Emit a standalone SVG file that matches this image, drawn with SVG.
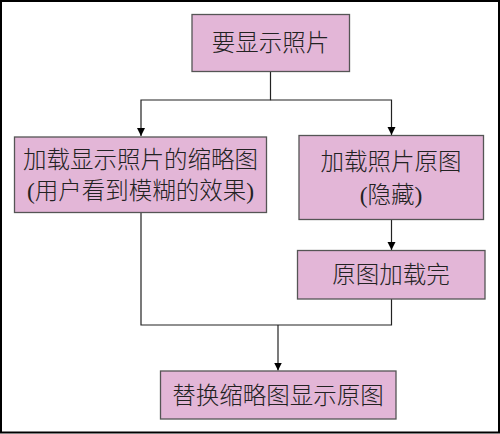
<svg xmlns="http://www.w3.org/2000/svg" width="500" height="434" viewBox="0 0 500 434">
<style>
.box{fill:#E3B6D7;stroke:#555;stroke-width:1.3}
.t{font-family:"Liberation Serif","Noto Sans CJK SC",serif;font-size:23.5px;font-weight:300;fill:#222;text-anchor:middle;dominant-baseline:central}
.c{fill:none;stroke:#222;stroke-width:1.2}
</style>
<defs>
<marker id="ah" viewBox="0 0 10 10" refX="10" refY="5" markerWidth="8" markerHeight="10" markerUnits="userSpaceOnUse" orient="auto">
<path d="M0,0 L10,5 L0,10 Z" fill="#000"/>
</marker>
</defs>
<rect x="1" y="1" width="498" height="431.5" fill="#fff" stroke="#000" stroke-width="2"/>
<g id="connectors">
<path class="c" d="M270.5,71.5 V100 H141 V136" marker-end="url(#ah)"/>
<path class="c" d="M270.5,100 H391.5 V135" marker-end="url(#ah)"/>
<path class="c" d="M391.5,219.5 V250" marker-end="url(#ah)"/>
<path class="c" d="M141,212.5 V325 H391.5 V299"/>
<path class="c" d="M278,325 V370.5" marker-end="url(#ah)"/>
</g>
<g id="n1">
<rect class="box" x="192" y="14.5" width="157.5" height="57"/>
<text class="t" x="270.5" y="43">要显示照片</text>
</g>
<g id="n2">
<rect class="box" x="14.5" y="137" width="252" height="75.5"/>
<text class="t" x="140.5" y="159.5">加载显示照片的缩略图</text>
<text class="t" x="140.5" y="191">(用户看到模糊的效果)</text>
</g>
<g id="n3">
<rect class="box" x="299" y="135.5" width="184.5" height="84"/>
<text class="t" x="391" y="161.5">加载照片原图</text>
<text class="t" x="391" y="195">(隐藏)</text>
</g>
<g id="n4">
<rect class="box" x="297.5" y="250.5" width="187.5" height="48.5"/>
<text class="t" x="391" y="275">原图加载完</text>
</g>
<g id="n5">
<rect class="box" x="160.5" y="371" width="235.5" height="48"/>
<text class="t" x="278" y="395.5">替换缩略图显示原图</text>
</g>
</svg>
